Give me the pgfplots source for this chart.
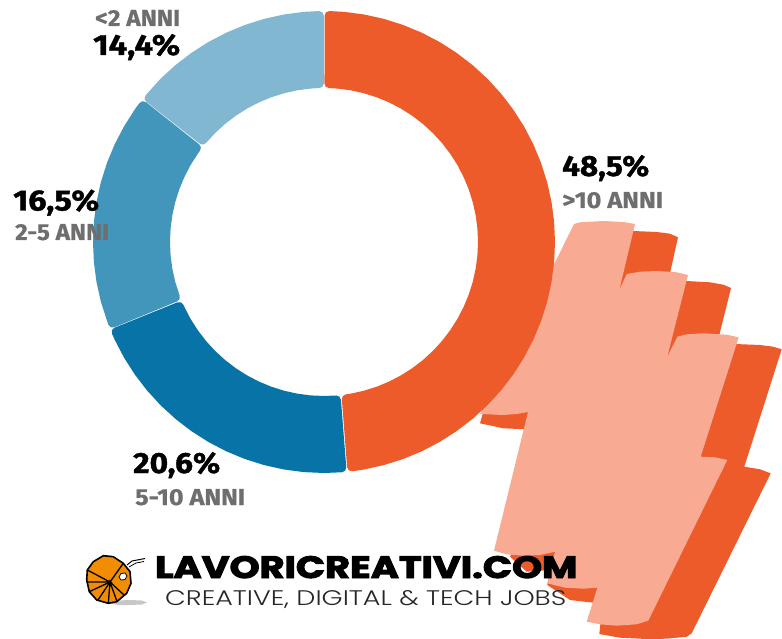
\documentclass[border=0pt]{standalone}
\usepackage{graphicx}
\usepackage{fontspec}
\setmainfont{Fira Sans}
\newfontfamily\pctfont[BoldFeatures={FakeBold=1.2}]{Fira Sans}
\newfontfamily\yrsfont[BoldFeatures={FakeBold=0.6}]{Fira Sans}
\newfontfamily\logofont[BoldFeatures={FakeBold=3}]{Poppins}
\newfontfamily\tagfont{Poppins Light}
\usepackage{pgfplots}
\pgfplotsset{compat=1.18}

\definecolor{cOrange}{RGB}{236,91,41}
\definecolor{cDark}{RGB}{8,115,166}
\definecolor{cMid}{RGB}{66,150,188}
\definecolor{cLight}{RGB}{130,183,209}
\definecolor{cSalmon}{RGB}{248,170,146}
\definecolor{cGrey}{RGB}{110,110,110}
\definecolor{cSnail}{RGB}{242,140,0}

\pgfplotsset{
  page/.style={hide axis, scale only axis, width=782pt, height=639pt, at={(0,0)}, anchor=south west},
  pixels/.style={page, xmin=0, xmax=782, ymin=0, ymax=639, y dir=reverse},
  slice/.style={fill=#1, draw=#1, line width=9pt, line join=round, mark=none, data cs=polar},
}
\newcommand{\pct}[2]{\resizebox{#2pt}{21pt}{\pctfont\bfseries #1}}
\newcommand{\yrs}[2]{\resizebox{#2pt}{16pt}{\yrsfont\bfseries\color{cGrey} #1}}

\begin{document}
\begin{tikzpicture}
\path (0,0) rectangle (782pt,639pt);
% pointer hand and its shadow, in image pixels
\begin{axis}[pixels]
\addplot[fill=cOrange, draw=none, mark=none] coordinates {
(633.3,231)(656.7,232)(670,233.7)(678,237.3)(670,273.3)(686.7,281)(710,282.3)(723.3,284.7)(731,288)
(719.3,335)(735,344)(760,345)(773.3,346.7)(781.7,349.3)(744.3,466.7)(760,469.3)(770.7,473.3)
(691.7,633.3)(686.7,636.7)(666.7,638.7)(646.7,639)(620,637.7)(599.3,634)(603,600)(593.3,602.7)
(570,600)(547.3,585)(550,570)(526.7,571.7)(510,556.7)(570,443)(525,429.3)(503.3,428.3)(480,423.3)(503,343)
} -- cycle;
\addplot[fill=cSalmon, draw=none, mark=none] coordinates {
(574,224)(580,222.3)(603.3,221)(623.3,222)(635,224)(619.3,290)(626.7,274)(640,271.7)(656.7,271)
(676.7,272.3)(688,275)(667.3,356.7)(677.3,336.7)(686.7,334.3)(703.3,333.3)(726.7,334.7)(738.7,337.3)
(700.7,456.7)(715,457.3)(727.3,460)(648.3,620.7)(636.7,624.3)(616.7,625.7)(600,624.3)(586.7,621.7)
(597.3,587.7)(583.3,588.7)(565,587.7)(547.3,583.3)(555,551.7)(540,555)(523.3,555.7)(506.7,554.3)(494,550.7)
(528,412)(516.7,414)(503.3,415)(480,414)
} -- cycle;
\end{axis}

% donut: (angle, radius), one slice per share
\begin{axis}[page, xmin=-324, xmax=458, ymin=-397, ymax=242]
\addplot[slice=cOrange] coordinates {
(88.7,226.5)(85,226.5)(80,226.5)(75,226.5)(70,226.5)(65,226.5)(60,226.5)(55,226.5)(50,226.5)(45,226.5)(40,226.5)(35,226.5)
(30,226.5)(25,226.5)(20,226.5)(15,226.5)(10,226.5)(5,226.5)(0,226.5)(-5,226.5)(-10,226.5)(-15,226.5)(-20,226.5)(-25,226.5)
(-30,226.5)(-35,226.5)(-40,226.5)(-45,226.5)(-50,226.5)(-55,226.5)(-60,226.5)(-65,226.5)(-70,226.5)(-75,226.5)(-80,226.5)(-83,226.5)
(-81.9,158.5)(-80,158.5)(-75,158.5)(-70,158.5)(-65,158.5)(-60,158.5)(-55,158.5)(-50,158.5)(-45,158.5)(-40,158.5)(-35,158.5)(-30,158.5)
(-25,158.5)(-20,158.5)(-15,158.5)(-10,158.5)(-5,158.5)(0,158.5)(5,158.5)(10,158.5)(15,158.5)(20,158.5)(25,158.5)(30,158.5)
(35,158.5)(40,158.5)(45,158.5)(50,158.5)(55,158.5)(60,158.5)(65,158.5)(70,158.5)(75,158.5)(80,158.5)(85,158.5)(88.2,158.5)
} -- cycle;
\addplot[slice=cDark] coordinates {
(-85.5,226.5)(-90,226.5)(-95,226.5)(-100,226.5)(-105,226.5)(-110,226.5)(-115,226.5)(-120,226.5)(-125,226.5)(-130,226.5)
(-135,226.5)(-140,226.5)(-145,226.5)(-150,226.5)(-155,226.5)(-156.6,226.5)
(-156,158.5)(-155,158.5)(-150,158.5)(-145,158.5)(-140,158.5)(-135,158.5)(-130,158.5)(-125,158.5)(-120,158.5)(-115,158.5)
(-110,158.5)(-105,158.5)(-100,158.5)(-95,158.5)(-90,158.5)(-85.5,158.5)
} -- cycle;
\addplot[slice=cMid] coordinates {
(-159,226.5)(-165,226.5)(-170,226.5)(-175,226.5)(-180,226.5)(-185,226.5)(-190,226.5)(-195,226.5)(-200,226.5)(-205,226.5)
(-210,226.5)(-215,226.5)(-217,226.5)
(-216.4,158.5)(-215,158.5)(-210,158.5)(-205,158.5)(-200,158.5)(-195,158.5)(-190,158.5)(-185,158.5)(-180,158.5)(-175,158.5)
(-170,158.5)(-165,158.5)(-159.6,158.5)
} -- cycle;
\addplot[slice=cLight] coordinates {
(-219.4,226.5)(-225,226.5)(-230,226.5)(-235,226.5)(-240,226.5)(-245,226.5)(-250,226.5)(-255,226.5)(-260,226.5)(-265,226.5)(-268.8,226.5)
(-268.3,158.5)(-265,158.5)(-260,158.5)(-255,158.5)(-250,158.5)(-245,158.5)(-240,158.5)(-235,158.5)(-230,158.5)(-225,158.5)(-220,158.5)
} -- cycle;
\end{axis}

% logo and labels, on top of everything
\begin{axis}[pixels]
% snail
\addplot[fill=black!22, draw=none, mark=none] coordinates {
(108,603)(118,600.5)(130,600)(142,600.5)(147,602.5)(142,604.5)(130,605)(118,605)
} -- cycle;
\addplot[fill=cSnail, draw=black, line width=1.6pt, line join=round, mark=none] coordinates {
(86.7,580)(87.3,570)(93.3,561.7)(103.3,555.7)(113.3,556.7)(123.3,563.3)(130,571.7)(131,583.3)
(126.7,593.3)(116.7,601.7)(108.3,603.3)(96.7,600)(89.3,591.7)
} -- cycle;
\addplot[black, line width=1.3pt, mark=none] coordinates {(87.3,570)(110,582)(86.7,582)};
\addplot[black, line width=1.3pt, mark=none] coordinates {(89.3,591.7)(110,582)(98,600)};
\addplot[black, line width=1.3pt, mark=none] coordinates {(108.3,603.3)(110,582)(117,601.5)};
\addplot[black, line width=1.3pt, mark=none] coordinates {(124,595)(110,582)(123.3,563.3)};
\addplot[fill=white, draw=black, line width=0.8pt, mark=none] coordinates {
(119,577)(121,573.5)(125,573)(127,576)(125,579.5)(121,580)
} -- cycle;
\addplot[black, line width=1pt, mark=none] coordinates {(127,565)(132,561)(145,558.5)};
\addplot[black, line width=0.8pt, mark=none] coordinates {(129,567)(136,563)(144,561.5)};

\node[anchor=base west, inner sep=0pt] at (axis cs:155,578)
  {\resizebox{422pt}{22pt}{\logofont\bfseries LAVORICREATIVI.COM}};
\node[anchor=base west, inner sep=0pt, text=black!85] at (axis cs:165,605)
  {\resizebox{401pt}{15pt}{\tagfont CREATIVE, DIGITAL \& TECH JOBS}};

\node[anchor=base west, inner sep=0pt] at (axis cs:95,26) {\yrs{<2 ANNI}{85}};
\node[anchor=base west, inner sep=0pt] at (axis cs:93,55) {\pct{14,4\%}{87}};
\node[anchor=base west, inner sep=0pt] at (axis cs:13,210.5) {\pct{16,5\%}{86}};
\node[anchor=base west, inner sep=0pt] at (axis cs:15,240) {\yrs{2-5 ANNI}{94}};
\node[anchor=base west, inner sep=0pt] at (axis cs:133,473) {\pct{20,6\%}{87}};
\node[anchor=base west, inner sep=0pt] at (axis cs:135,505) {\yrs{5-10 ANNI}{110}};
\node[anchor=base west, inner sep=0pt] at (axis cs:562,176) {\pct{48,5\%}{87}};
\node[anchor=base west, inner sep=0pt] at (axis cs:562,208) {\yrs{>10 ANNI}{101}};
\end{axis}
\end{tikzpicture}
\end{document}
